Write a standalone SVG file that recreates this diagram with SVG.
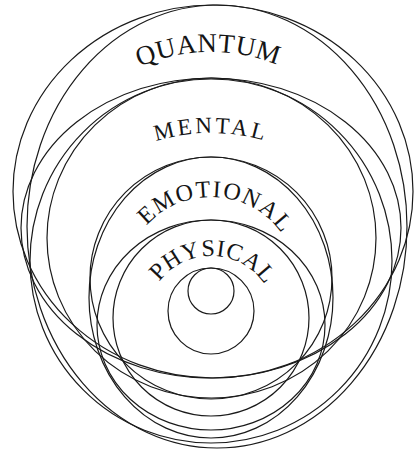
<svg xmlns="http://www.w3.org/2000/svg" width="414" height="452" viewBox="0 0 414 452">
<defs>
<style>
.r{fill:none;stroke:#1a1a1a;stroke-width:1.2}
.t{font-family:"Liberation Serif","DejaVu Serif",serif;fill:#151515}
</style>
<path id="pq" d="M 34,229 A 177 177 0 0 1 388,229"/>
<path id="pm" d="M 23,321 A 188 188 0 0 1 399,321"/>
<path id="pe" d="M 124,284 A 87 87 0 0 1 298,284"/>
<path id="pp" d="M 146,321 A 65 65 0 0 1 276,321"/>
</defs>
<rect width="414" height="452" fill="#fff"/>
<g id="quantum">
<ellipse class="r" cx="213" cy="191.5" rx="200" ry="186.5"/>
<ellipse class="r" cx="217" cy="226.5" rx="190" ry="221.5"/>
<text class="t" font-size="27" letter-spacing="0.5"><textPath href="#pq" startOffset="49.5%" text-anchor="middle">QUANTUM</textPath></text>
</g>
<g id="mental">
<ellipse class="r" cx="211" cy="228" rx="190" ry="150"/>
<ellipse class="r" cx="211.5" cy="238" rx="164.5" ry="160"/>
<ellipse class="r" cx="211" cy="261" rx="181" ry="182"/>
<text class="t" font-size="23" letter-spacing="3"><textPath href="#pm" startOffset="50%" text-anchor="middle">MENTAL</textPath></text>
</g>
<g id="emotional">
<circle class="r" cx="211" cy="278" r="121"/>
<ellipse class="r" cx="211" cy="297.5" rx="122" ry="140.5"/>
<text class="t" font-size="24" letter-spacing="1.5"><textPath href="#pe" startOffset="52%" text-anchor="middle">EMOTIONAL</textPath></text>
</g>
<g id="physical">
<circle class="r" cx="211" cy="318" r="98"/>
<ellipse class="r" cx="211" cy="325" rx="114" ry="105"/>
<text class="t" font-size="24" letter-spacing="0.8"><textPath href="#pp" startOffset="51%" text-anchor="middle">PHYSICAL</textPath></text>
</g>
<g id="core">
<circle class="r" cx="211" cy="311" r="43"/>
<circle class="r" cx="211" cy="291" r="23"/>
</g>
</svg>
